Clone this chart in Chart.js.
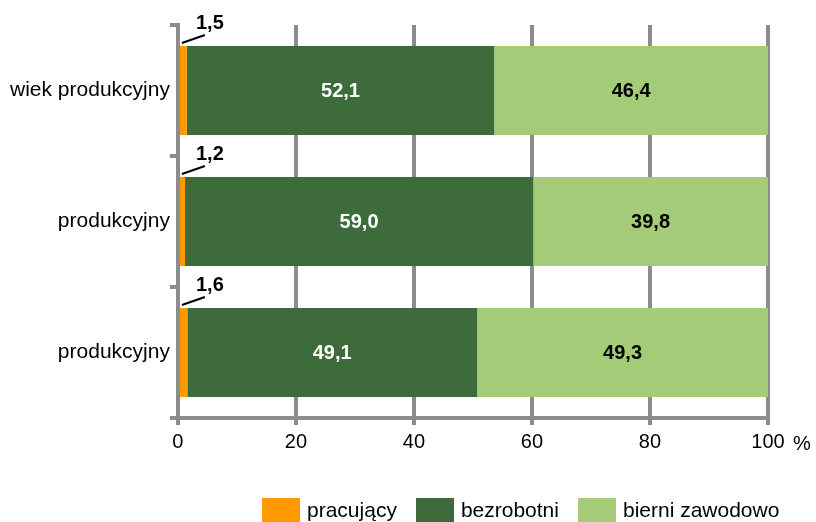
<!DOCTYPE html>
<html lang="pl">
<head>
<meta charset="UTF-8">
<title>Struktura ludności</title>
<script src="https://cdn.jsdelivr.net/npm/chart.js"></script>
<style>
  body { margin: 0; background: #fff; font-family: "Liberation Sans", Arial, sans-serif; }
  .wrap { position: relative; width: 816px; height: 522px; }
  .legend { position: absolute; left: 262px; top: 498px; display: flex; align-items: flex-start; font-size: 21px; color: #000; }
  .legend .item { display: flex; align-items: flex-start; margin-right: 19px; }
  .legend .box { width: 38px; height: 26px; margin-right: 7px; }
  .legend span { line-height: 24px; }
</style>
</head>
<body>
<div class="wrap">
  <canvas id="chart"></canvas>
  <div class="legend" id="legend"></div>
</div>
<script>
// dane
const categories = ['wiek produkcyjny', 'produkcyjny', 'produkcyjny'];
const seriesNames = ['pracujący', 'bezrobotni', 'bierni zawodowo'];
const pracujacy = [1.5, 1.2, 1.6];
const bezrobotni = [52.1, 59.0, 49.1];
const bierni = [46.4, 39.8, 49.3];
const xTicks = [0, 20, 40, 60, 80, 100];

const colors = ['#FF9900', '#3D6B3B', '#A3CB78'];
const grey = '#8C8C8C';
const font = '"Liberation Sans", Arial, sans-serif';

const fmt = v => v.toFixed(1).replace('.', ',');

// etykiety danych
const labelsPlugin = {
  id: 'valueLabels',
  afterDatasetsDraw(chart) {
    const ctx = chart.ctx;
    ctx.save();
    ctx.textAlign = 'center';
    ctx.textBaseline = 'middle';
    ctx.font = 'bold 20px ' + font;
    chart.data.datasets.forEach((ds, di) => {
      const meta = chart.getDatasetMeta(di);
      meta.data.forEach((bar, i) => {
        const v = ds.data[i];
        if (di === 0) {
          const x0 = bar.base;
          const top = bar.y - bar.height / 2;
          ctx.strokeStyle = '#000';
          ctx.lineWidth = 2;
          ctx.beginPath();
          ctx.moveTo(x0 + 2, top - 3);
          ctx.lineTo(x0 + 25, top - 11);
          ctx.stroke();
          ctx.fillStyle = '#000';
          ctx.fillText(fmt(v), x0 + 30, top - 22);
        } else {
          ctx.fillStyle = di === 1 ? '#fff' : '#000';
          ctx.fillText(fmt(v), (bar.x + bar.base) / 2, bar.y + 1);
        }
      });
    });
    // znak procentu za osią
    const xs = chart.scales.x;
    ctx.font = '20px ' + font;
    ctx.fillStyle = '#000';
    ctx.fillText('%', xs.right + 34, xs.top + 26);
    ctx.restore();
  }
};

const chart = new Chart(document.getElementById('chart'), {
  type: 'bar',
  data: {
    labels: categories,
    datasets: [
      { label: seriesNames[0], data: pracujacy, backgroundColor: colors[0] },
      { label: seriesNames[1], data: bezrobotni, backgroundColor: colors[1] },
      { label: seriesNames[2], data: bierni, backgroundColor: colors[2] }
    ]
  },
  options: {
    indexAxis: 'y',
    responsive: true,
    maintainAspectRatio: false,
    animation: false,
    layout: { padding: { left: 10, right: 48, top: 25, bottom: 63 } },
    datasets: { bar: { barPercentage: 0.68, categoryPercentage: 1, borderWidth: 0 } },
    plugins: {
      legend: { display: false },
      tooltip: { enabled: false },
      title: { display: false }
    },
    scales: {
      x: {
        stacked: true,
        min: 0,
        max: 100,
        afterBuildTicks: s => { s.ticks = xTicks.map(v => ({ value: v })); },
        grid: { color: grey, lineWidth: 4, tickLength: 7, drawTicks: true },
        border: { display: true, color: grey, width: 4 },
        ticks: { color: '#000', font: { family: font, size: 20 }, padding: 5 }
      },
      y: {
        stacked: true,
        grid: { color: grey, lineWidth: 4, tickLength: 8, drawOnChartArea: false, offset: true },
        border: { display: true, color: grey, width: 4 },
        ticks: { color: '#000', font: { family: font, size: 21 }, padding: 0 }
      }
    }
  },
  plugins: [labelsPlugin]
});

// legenda
const legend = document.getElementById('legend');
chart.data.datasets.forEach(ds => {
  const item = document.createElement('div');
  item.className = 'item';
  const box = document.createElement('div');
  box.className = 'box';
  box.style.background = ds.backgroundColor;
  const txt = document.createElement('span');
  txt.textContent = ds.label;
  item.appendChild(box);
  item.appendChild(txt);
  legend.appendChild(item);
});
</script>
</body>
</html>
